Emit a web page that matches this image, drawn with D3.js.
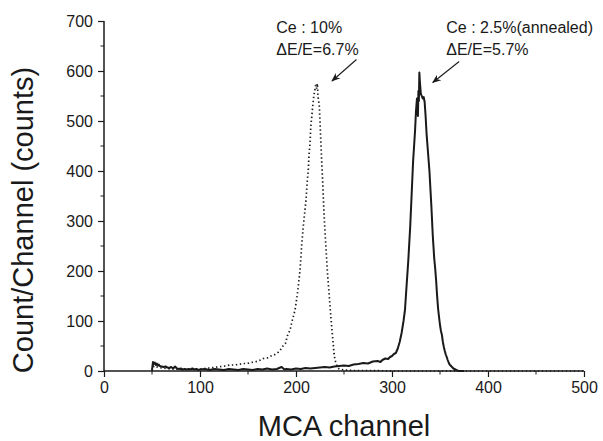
<!DOCTYPE html>
<html>
<head>
<meta charset="utf-8">
<script src="https://cdn.jsdelivr.net/npm/d3@7/dist/d3.min.js"></script>
<style>
  html, body { margin: 0; padding: 0; background: #fff; }
  svg { display: block; font-family: "Liberation Sans", Arial, sans-serif; }
</style>
</head>
<body>
<svg id="chart" width="603" height="441"></svg>
<script>
// ---- Data ----
const xTicks = [0, 100, 200, 300, 400, 500];
const yTicks = [0, 100, 200, 300, 400, 500, 600, 700];

// Ce : 2.5% (annealed) — solid line  [channel, counts]
const annealed = [
  [50,2],[51,18],[52,14],[53,17],[54,12],[55,15],[56,11],[57,13],[58,10],[60,9],
  [62,8],[64,9],[66,7],[68,6],[70,8],[72,5],[74,9],[76,5],[78,4],[80,5],
  [82,3],[84,4],[86,3],[88,4],[90,3],[92,5],[94,3],[96,4],[98,2],[100,3],
  [105,4],[110,2],[115,4],[120,3],[125,2],[130,4],[135,3],[140,2],[145,4],[150,3],
  [155,2],[160,4],[165,3],[170,5],[175,3],[180,4],[185,8],[188,3],[190,4],[195,3],
  [200,5],[205,4],[210,6],[215,5],[220,6],[225,7],[230,8],[235,7],[240,9],[245,10],
  [250,11],[255,10],[260,13],[265,14],[270,16],[275,15],[280,19],[285,20],[288,18],[290,22],
  [293,25],[296,24],[298,28],[300,30],[302,34],[304,36],[306,45],[308,58],[310,76],[312,100],
  [313.5,122],[315,165],[317,222],[319,290],[320.5,355],[322,420],[324,480],[325,520],[326,545],[327,510],
  [327.5,560],[328,540],[328.5,597],[329,580],[330,555],[331,550],[332,545],[333,548],[334,538],[335,510],
  [336,475],[337,450],[338,425],[339,400],[340,365],[341,330],[342,290],[342.5,270],[343,255],[344,225],
  [345,205],[346,180],[347,150],[348,125],[349,108],[350,92],[351,80],[352,72],[353,58],[354,48],
  [355,40],[356,33],[357,28],[358,22],[359,17],[360,13],[362,9],[364,5],[366,3],[368,1],[370,0],[375,0]
];

// Ce : 10% — dotted line  [channel, counts]
const ce10 = [
  [50,0],[52,10],[55,8],[60,6],[65,5],[70,4],[75,4],[80,3],[85,4],[90,3],
  [95,4],[100,4],[105,5],[110,6],[114,7],[118,8],[122,9],[126,10],[131,12],[135,12],
  [140,13],[145,15],[149,15],[153,17],[157,18],[161,20],[166,25],[170,26],[174,30],[177,32],
  [180,35],[183,40],[186,49],[189,55],[191,70],[193.75,82],[196,100],[199,122],[201,148],[202.4,169],
  [204,198],[204.9,222],[206,255],[207.6,289],[209,315],[210.4,342],[211.5,375],[212.8,402],[213.5,430],[214.6,455],
  [215.5,490],[216.5,510],[217.4,529],[218.5,550],[219.5,560],[220.5,572],[221.5,565],[222.3,575],[223,548],[224.3,529],
  [225.5,475],[226.7,422],[228,370],[229,322],[230.5,270],[232,222],[233,190],[234.4,156],[235.8,120],[237.2,89],
  [238.5,60],[239.6,35],[240.7,22],[241.7,15],[243,8],[245,4],[250,2],[260,1],[280,1],[300,0],[400,0],[500,0]
];

// Annotations (text lines and arrows, in data units)
const labelCe10 = ["Ce : 10%", "\u0394E/E=6.7%"];
const labelAnn = ["Ce : 2.5%(annealed)", "\u0394E/E=5.7%"];

// ---- Layout ----
const svg = d3.select("#chart");
const M = { left: 104, right: 19, top: 21, bottom: 70 };
const W = 603, H = 441;
const x = d3.scaleLinear().domain([0, 500]).range([M.left, W - M.right]);
const y = d3.scaleLinear().domain([0, 700]).range([H - M.bottom, M.top]);
const ink = "#1a1a1a";

// arrowhead marker
svg.append("defs").append("marker")
  .attr("id", "arr").attr("viewBox", "0 0 10 10")
  .attr("refX", 9).attr("refY", 5)
  .attr("markerWidth", 9).attr("markerHeight", 9)
  .attr("markerUnits", "userSpaceOnUse")
  .attr("orient", "auto")
  .append("path").attr("d", "M0,1 L10,5 L0,9 L3,5 Z").attr("fill", ink);

// ---- Axes ----
const xAxis = d3.axisBottom(x).tickValues(xTicks).tickSize(6).tickPadding(5);
const yAxis = d3.axisLeft(y).tickValues(yTicks).tickSize(6).tickPadding(5);

const gx = svg.append("g").attr("transform", `translate(0,${y(0)})`).call(xAxis);
const gy = svg.append("g").attr("transform", `translate(${x(0)},0)`).call(yAxis);

[gx, gy].forEach(g => {
  g.select(".domain").attr("stroke", ink).attr("stroke-width", 1.5);
  g.selectAll(".tick line").attr("stroke", ink).attr("stroke-width", 1.2);
  g.selectAll(".tick text").attr("fill", ink).style("font-size", "16px")
    .style("font-family", "'Liberation Sans', Arial, sans-serif");
});
// remove outer tick end caps
gx.select(".domain").attr("d", `M${x(0)},0H${x(500)}`);
gy.select(".domain").attr("d", `M0,${y(0)}V${y(700)}`);

// minor ticks
const xMinor = d3.range(50, 500, 100);
const yMinor = d3.range(50, 700, 100);
svg.append("g").selectAll("line").data(xMinor).join("line")
  .attr("x1", d => x(d)).attr("x2", d => x(d))
  .attr("y1", y(0)).attr("y2", y(0) + 3.5)
  .attr("stroke", ink).attr("stroke-width", 1);
svg.append("g").selectAll("line").data(yMinor).join("line")
  .attr("y1", d => y(d)).attr("y2", d => y(d))
  .attr("x1", x(0)).attr("x2", x(0) - 3.5)
  .attr("stroke", ink).attr("stroke-width", 1);

// ---- Series ----
const line = d3.line().x(d => x(d[0])).y(d => y(d[1]));

svg.append("path").datum(ce10)
  .attr("d", line)
  .attr("fill", "none").attr("stroke", ink)
  .attr("stroke-width", 1.7)
  .attr("stroke-dasharray", "1.4 2.6");

svg.append("path").datum(annealed)
  .attr("d", line)
  .attr("fill", "none").attr("stroke", ink)
  .attr("stroke-width", 2)
  .attr("stroke-linejoin", "round");

// ---- Annotations ----
function annot(lines, cx, cy1, cy2) {
  const t = svg.append("text").attr("fill", ink)
    .style("font-size", "16px");
  t.append("tspan").attr("x", x(cx)).attr("y", y(cy1)).text(lines[0]);
  t.append("tspan").attr("x", x(cx)).attr("y", y(cy2)).text(lines[1]);
}
annot(labelCe10, 179.5, 677, 633);
annot(labelAnn, 356.5, 677, 633);

const arrows = [
  { from: [263, 623], to: [237.5, 580] },
  { from: [370, 619], to: [342.5, 577] }
];
svg.append("g").selectAll("line").data(arrows).join("line")
  .attr("x1", d => x(d.from[0])).attr("y1", d => y(d.from[1]))
  .attr("x2", d => x(d.to[0])).attr("y2", d => y(d.to[1]))
  .attr("stroke", ink).attr("stroke-width", 1.1)
  .attr("marker-end", "url(#arr)");

// ---- Axis titles ----
svg.append("text")
  .attr("x", (x(0) + x(500)) / 2).attr("y", 436)
  .attr("text-anchor", "middle").attr("fill", ink)
  .style("font-size", "29px")
  .text("MCA channel");

svg.append("text")
  .attr("transform", `translate(33,${(y(0) + y(700)) / 2 + 24}) rotate(-90)`)
  .attr("text-anchor", "middle").attr("fill", ink)
  .style("font-size", "29px")
  .text("Count/Channel (counts)");
</script>
</body>
</html>
